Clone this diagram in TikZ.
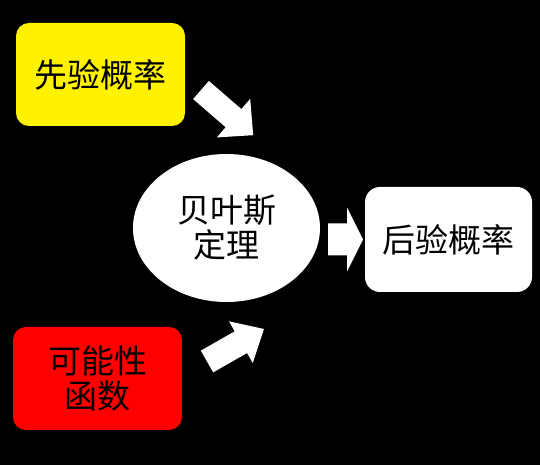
\documentclass[tikz,border=0pt]{standalone}
\usepackage{fontspec}
\setmainfont{Noto Sans CJK SC}
\usetikzlibrary{shapes.geometric}
\tikzset{
  cjktext/.style={font=\fontsize{33}{35}\selectfont, text=black, align=center, inner sep=0pt},
  box/.style={cjktext, rounded corners=13pt, minimum width=169pt, minimum height=103pt},
  oval/.style={cjktext, ellipse, fill=white, minimum width=187pt, minimum height=148pt},
  blockarrow/.style={fill=white}
}
\newcommand{\blockarr}[6]{%
  \fill[blockarrow, shift={#1}, rotate=#2]
    (0,-#5) -- (#4,-#5) -- (#4,-#6) -- (#3,0) -- (#4,#6) -- (#4,#5) -- (0,#5) -- cycle;}
\begin{document}
\begin{tikzpicture}[x=1pt,y=1pt]
  \fill[black] (0,0) rectangle (540,465);
  \useasboundingbox (0,0) rectangle (540,465);
  \node[box, fill=yellow] (prior) at (100.5,390.5) {先验概率};
  \node[oval] (bayes) at (226.5,237) {贝叶斯\\定理};
  \node[box, fill=white, minimum width=167pt, minimum height=105pt, rounded corners=15pt] (post) at (448.5,225.5) {后验概率};
  \node[box, fill=red] (like) at (97.5,86.5) {可能性\\函数};
  % block arrows
  \blockarr{(201,375)}{-40.9}{69}{43}{12}{25.5}
  \blockarr{(207,103.5)}{29.7}{65.6}{39}{12.5}{24}
  \blockarr{(328,225.5)}{0}{35}{19}{16}{32}
\end{tikzpicture}
\end{document}
